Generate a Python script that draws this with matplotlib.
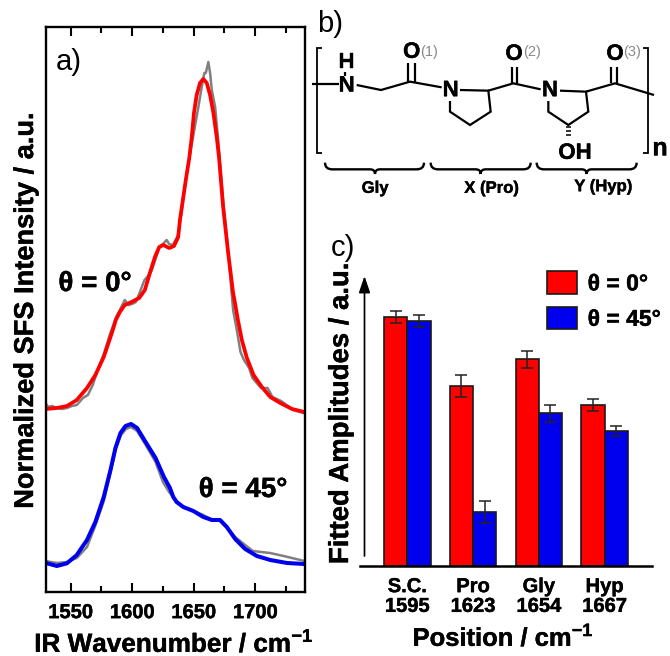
import matplotlib
matplotlib.use("Agg")
import matplotlib.pyplot as plt
import matplotlib.patheffects as pe
import numpy as np
from matplotlib.lines import Line2D
from matplotlib.patches import PathPatch
from matplotlib.path import Path
from matplotlib.ticker import MultipleLocator

plt.rcParams['font.family'] = ['Liberation Sans', 'DejaVu Sans']
plt.rcParams['mathtext.fontset'] = 'custom'
plt.rcParams['mathtext.bf'] = 'Liberation Sans:bold'
plt.rcParams['mathtext.rm'] = 'Liberation Sans'

# ---------- data: panel a ----------
wn_fit0 = [1530,1538.8,1547,1555,1563.3,1570.1,1576.9,1582.4,1584.5,1586.7,1590,1594,1599.5,1605.7,1610.3,1614.4,1618.5,1622,1625.2,1630.1,1634,1637.4,1638.8,1641.3,1643.7,1646.4,1648.4,1650.2,1652.4,1655.1,1657.8,1660.6,1663.3,1666,1668.7,1670.6,1673.9,1678,1682,1683.1,1685.9,1689.1,1693.2,1698.6,1705.4,1712.2,1720.3,1729.9,1740]
fit0 = [183,184,186,192,204,217,235,255,263,272,280,287,290,294,302,319,335,345,347,344,346,355,372,393,413,434,455,479,497,509,513,509,497,479,455,434,385,339,299,292,272,252,234,217,205,195,189,183,180]
wn_raw0 = [1530,1532,1535,1539,1543,1547,1551,1555,1560,1564,1568,1572,1577,1582,1585,1587,1590,1594,1597,1600,1603,1606,1610,1613,1616,1619,1622,1625,1628,1630,1633,1637,1640,1643,1646,1649,1653.8,1656.5,1658.6,1659.8,1661.9,1663.3,1664.7,1667.4,1670,1674,1678,1682,1685,1688,1690.8,1695,1697.7,1704.7,1710,1714,1721,1730.8,1739]
raw0 = [188,185,186,184,183,184,186,187,194,197,207,222,238,258,268,275,282,292,287,288,290,299,312,316,322,333,345,348,352,348,347,356,378,408,431,452,485,505,519,519,530,519,502,485,450,390,340,282,262,240,232,224,214,204,204,195,191,182,179]
wn_fit45 = [1530,1538.8,1547,1555,1563.3,1570.1,1576.9,1582.4,1586.4,1590.5,1594.6,1599.1,1604,1610.9,1619,1625.8,1630.7,1633.4,1636.1,1641.5,1649.7,1657.8,1664.7,1671.4,1676.9,1683.7,1691.8,1701.3,1712.2,1725.8,1740]
fit45 = [29,26,28.7,37,52,70,95,122,144,159,166,168,164,150,134,115,104,95,90,85,81,75,72,72,65,53,43,36,32,29,28]
wn_raw45 = [1530,1534,1539,1547,1555,1563.3,1570,1577,1582,1587,1591,1595,1599,1604,1611,1619,1625,1630,1636,1642,1650,1657.8,1664,1671.4,1677,1683.7,1691.8,1698,1712,1723,1740]
raw45 = [31,30,29,30,34,45,66,91,118,144,157,163,165,161,147,130,110,100,91,85,81,77,73,71,64,55,47,41,39,36,31]
ax_xlim = (1530, 1740)
ax_ylim = (0, 565)

# ---------- data: panel c ----------
sites = ['S.C.\n1595', 'Pro\n1623', 'Gly\n1654', 'Hyp\n1667']
amp0 = [249, 180, 207, 161]
amp45 = [245, 54, 153, 135]
err0 = [5.7, 10.7, 8.5, 5.7]
err45 = [5.7, 10.7, 8.5, 5.3]

W, H = 670, 656
fig = plt.figure(figsize=(W/100, H/100), dpi=100, facecolor='white')
heavy = [pe.withStroke(linewidth=0.3, foreground='black')]

def px_axes(l, t, r, b, **kw):
    return fig.add_axes([l/W, 1-b/H, (r-l)/W, (b-t)/H], **kw)

# ---------- panel a ----------
ax = px_axes(46, 27, 304.5, 592)
ax.plot(wn_raw0, raw0, color='#808080', lw=1.8, solid_joinstyle='round')
ax.plot(wn_raw45, raw45, color='#808080', lw=1.8, solid_joinstyle='round')
ax.plot(wn_fit0, fit0, color='#ff0000', lw=2.7, solid_joinstyle='round')
ax.plot(wn_fit45, fit45, color='#0000ee', lw=2.9, solid_joinstyle='round')
ax.set_xlim(*ax_xlim)
ax.set_ylim(*ax_ylim)
ax.set_yticks([])
ax.xaxis.set_major_locator(MultipleLocator(50))
ax.xaxis.set_minor_locator(MultipleLocator(25))
ax.tick_params(axis='x', which='major', direction='in', length=6.5, width=1.5, top=True, pad=8, labelsize=14.5)
ax.tick_params(axis='x', which='minor', direction='in', length=4, width=1.5, top=True)
for lab in ax.get_xticklabels():
    lab.set_fontweight('bold')
    lab.set_path_effects(heavy)
for s in ax.spines.values():
    s.set_linewidth(1.7)

# ---------- panel c ----------
cx = px_axes(360, 277, 652, 566)
pos = np.arange(len(sites))
bw = 0.353
bkw = dict(width=bw, edgecolor='#1a1a1a', linewidth=1.2, zorder=2,
           error_kw=dict(ecolor='#222222', elinewidth=1.1, capsize=4.6, capthick=1.1, zorder=3))
b0 = cx.bar(pos-bw/2, amp0, yerr=err0, color='#ff0000', label='θ = 0°', **bkw)
b1 = cx.bar(pos+bw/2, amp45, yerr=err45, color='#0000ee', label='θ = 45°', **bkw)
cx.set_xlim(-0.719, 3.72)
cx.set_ylim(0, 289)
cx.set_yticks([])
cx.set_xticks(pos, sites)
cx.tick_params(axis='x', length=0, pad=8, labelsize=14.5)
for lab in cx.get_xticklabels():
    lab.set_fontweight('bold')
    lab.set_linespacing(1.05)
    lab.set_path_effects(heavy)
for k in ['top', 'left', 'right']:
    cx.spines[k].set_visible(False)
cx.spines['bottom'].set_linewidth(1.8)
cx.patch.set_alpha(0)
leg = cx.legend(loc='upper left', bbox_to_anchor=((542.5-360)/292, 1.035), frameon=False,
                prop=dict(family='Liberation Sans', weight='bold', size=16.5),
                handlelength=1.32, handleheight=1.12, labelspacing=0.5, handletextpad=0.45,
                borderpad=0.2, borderaxespad=0)
for t in leg.get_texts():
    t.set_path_effects(heavy)

# ---------- overlay in pixels: labels, scheme ----------
ov = fig.add_axes([0, 0, 1, 1], zorder=10)
ov.set_xlim(0, W)
ov.set_ylim(H, 0)
ov.axis('off')

def txt(x, y, s, size, weight='bold', color='black', rot=0):
    t = ov.text(x, y, s, fontsize=size, fontweight=weight, color=color, rotation=rot,
                ha='center', va='center', rotation_mode='anchor')
    if weight == 'bold':
        t.set_path_effects(heavy)

txt(26, 310, 'Normalized SFS Intensity / a.u.', 19.6, rot=90)
txt(174, 643, r'IR Wavenumber / cm$^{\mathbf{-1}}$', 18.8)
txt(341, 413, 'Fitted Amplitudes / a.u.', 19.8, rot=90)
txt(503, 637, r'Position / cm$^{\mathbf{-1}}$', 18.4)
txt(69, 62, 'a)', 21, weight='normal')
txt(330, 24, 'b)', 21, weight='normal')
txt(343, 248, 'c)', 21, weight='normal')
txt(95, 284, 'θ = 0°', 20)
txt(243, 490, 'θ = 45°', 20)

ov.annotate('', xy=(364.5, 276), xytext=(364.5, 556),
            arrowprops=dict(arrowstyle='-|>,head_length=1.0,head_width=0.34', color='black', lw=1.25,
                            shrinkA=0, shrinkB=0))

def z(pts):
    return [(300+a/3, b/3) for a, b in pts]

def bond(*pts, lw=1.6):
    p = z(pts)
    ov.add_line(Line2D([q[0] for q in p], [q[1] for q in p], color='black', lw=lw,
                       solid_joinstyle='miter', solid_capstyle='butt'))

bond((35,252),(118,252))
bond((135,215),(135,228))
bond((170,255),(243,270),(330,245),(425,262))
bond((325,245),(325,190)); bond((345,245),(345,190))
bond((450,303),(450,335),(510,375),(572,335),(565,272),(480,270))
bond((565,272),(640,250),(722,268))
bond((635,250),(635,200)); bond((652,250),(652,200))
bond((745,303),(745,335),(805,375),(865,335),(858,275),(780,272))
bond((858,275),(945,250),(1062,285))
bond((932,250),(932,200)); bond((950,250),(950,200))
for yy in (380, 392, 405):
    bond((798,yy),(812,yy), lw=1.1)
bond((65,145),(50,145),(50,460),(65,460), lw=1.3)
bond((1030,145),(1045,145),(1045,460),(1030,460), lw=1.3)

def brace(x0, x1, xm):
    a = z([(x0,488),(x0,508),(x0+22,508),(xm-15,508),(xm,508),(xm,522),(xm,508),(xm+15,508),(x1-22,508),(x1,508),(x1,488)])
    codes = [Path.MOVETO, Path.CURVE3, Path.CURVE3, Path.LINETO, Path.CURVE3, Path.CURVE3,
             Path.CURVE3, Path.CURVE3, Path.LINETO, Path.CURVE3, Path.CURVE3]
    ov.add_patch(PathPatch(Path(a, codes), fc='none', ec='black', lw=1.7))

brace(75, 372, 225)
brace(392, 692, 542)
brace(710, 1010, 860)

for (a, b, s) in [(140,188,'H'),(140,258,'N'),(335,157,'O'),(452,272,'N'),(642,163,'O'),
                  (750,272,'N'),(945,163,'O')]:
    p = z([(a, b)])[0]
    txt(p[0], p[1], s, 16)
for (a, b, s) in [(387,157,'(1)'),(695,157,'(2)'),(997,157,'(3)')]:
    p = z([(a, b)])[0]
    txt(p[0], p[1], s, 10.5, weight='normal', color='#8a8a8a')
p = z([(825,460)])[0]; txt(p[0], p[1], 'OH', 16)
p = z([(1080,445)])[0]; txt(p[0], p[1], 'n', 18)
for (a, b, s) in [(225,565,'Gly'),(575,565,'X (Pro)'),(910,560,'Y (Hyp)')]:
    p = z([(a, b)])[0]
    txt(p[0], p[1], s, 12)

fig.savefig('out.png', dpi=100)
